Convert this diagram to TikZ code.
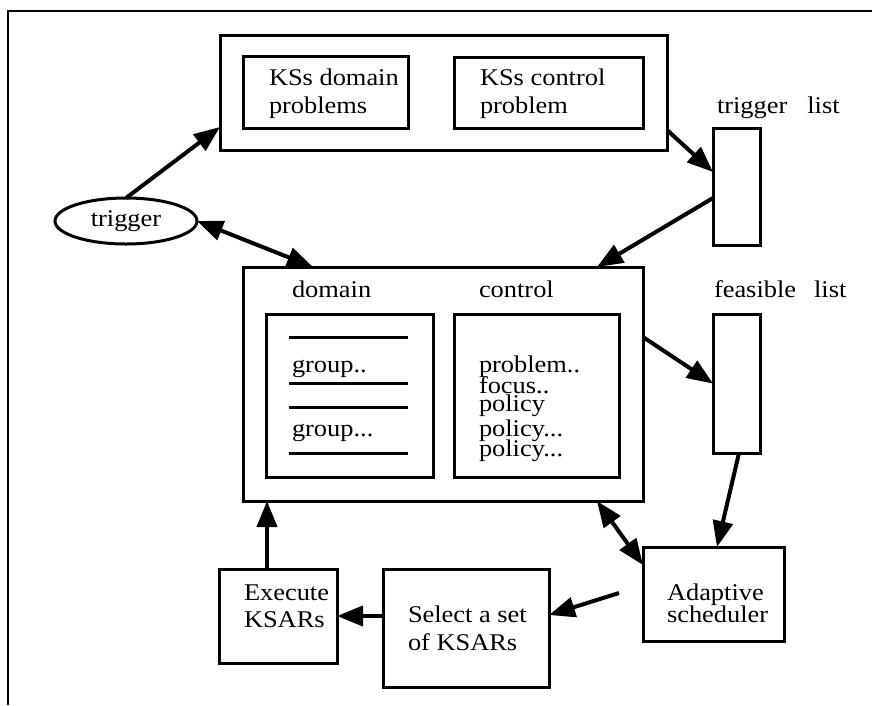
\documentclass[tikz,border=0pt]{standalone}
\usepackage{fontspec}
\setmainfont{Liberation Serif}[FakeStretch=1.1]
\usetikzlibrary{arrows.meta,shapes.geometric}
\begin{document}
\begin{tikzpicture}[x=1pt,y=-1pt,
  every node/.style={inner sep=0pt, outer sep=0pt},
  frame/.style={line width=2.5pt},
  panel/.style={draw, rectangle, line width=3pt},
  lbl/.style={anchor=base west, align=left, font=\fontsize{24}{28}\selectfont},
  tip/.tip={Triangle[length=26pt,width=20pt]},
  flow/.style={line width=4pt, -tip},
  twoway/.style={line width=4pt, tip-tip},
  rule/.style={line width=3pt}
]
\useasboundingbox (0,0) rectangle (872,705);
\fill[white] (0,0) rectangle (872,705);

% open frame round the figure
\draw[frame] (872,11) -- (8,11) -- (8,705);

% knowledge sources (multi-line labels sit on the baseline of their last line)
\node[panel, minimum width=447pt, minimum height=115pt] (tb) at (443.5,92.5) {};
\node[panel, minimum width=165pt, minimum height=72pt] (kdp) at (325.5,92) {};
\node[panel, minimum width=189pt, minimum height=71pt] (kcp) at (548.5,92.5) {};
\node[lbl] (kdptext) at (269,113) {KSs domain\\problems};
\node[lbl] (kcptext) at (480,113) {KSs control\\problem};

% trigger list
\node[lbl] (tltext) at (717,113) {trigger\hspace{20pt}list};
\node[panel, minimum width=47pt, minimum height=117pt] (tl) at (736.5,186.5) {};

% trigger
\node[draw, ellipse, line width=3pt, minimum width=142pt, minimum height=46pt,
      font=\fontsize{24}{28}\selectfont] (trg) at (126,221) {trigger};

% blackboard
\node[panel, minimum width=400pt, minimum height=234pt] (mb) at (443,384) {};
\node[lbl] (domtext) at (292,297) {domain};
\node[lbl] (ctltext) at (479,297) {control};
\node[panel, minimum width=167pt, minimum height=163pt] (dom) at (349.5,395.5) {};
\node[panel, minimum width=165pt, minimum height=163pt] (ctl) at (536.5,395.5) {};

\draw[rule] (289,337) -- (408,337);
\draw[rule] (289,383) -- (408,383);
\draw[rule] (289,407) -- (408,407);
\draw[rule] (289,453) -- (408,453);
\node[lbl] (g1) at (292,372) {group..};
\node[lbl] (g2) at (292,436) {group...};

\node[lbl] (c1) at (479,372) {problem..};
\node[lbl] (c2) at (479,393) {focus..};
\node[lbl] (c3) at (479,411) {policy};
\node[lbl] (c4) at (479,436) {policy...};
\node[lbl] (c5) at (479,456) {policy...};

% feasible list
\node[lbl] (fltext) at (714,297) {feasible\hspace{18pt}list};
\node[panel, minimum width=47pt, minimum height=139pt] (fl) at (736.5,383.5) {};

% scheduling loop
\node[panel, minimum width=141pt, minimum height=94pt] (as) at (713.5,594) {};
\node[lbl, font=\fontsize{24}{22}\selectfont] (astext) at (667,622) {Adaptive\\scheduler};
\node[panel, minimum width=166pt, minimum height=118pt] (sel) at (466,628) {};
\node[lbl] (seltext) at (408,650) {Select a set\\of KSARs};
\node[panel, minimum width=118pt, minimum height=94pt] (ex) at (278,616) {};
\node[lbl, font=\fontsize{24}{27}\selectfont] (extext) at (244,627) {Execute\\KSARs};

% connectors
\draw[flow] (trg.north) -- ([yshift=-34.5pt]tb.west);
\draw[flow] ([yshift=-37.5pt]tb.east) -- ([yshift=14.5pt]tl.west);
\draw[flow] ([yshift=-11.5pt]tl.west) -- ([xshift=154pt]mb.north);
\draw[twoway] (trg.east) -- ([xshift=-130pt]mb.north);
\draw[flow] ([yshift=47pt]mb.east) -- (fl.west);
\draw[flow] ([xshift=2.5pt]fl.south) -- ([xshift=3.5pt]as.north);
\draw[twoway] ([xshift=154pt]mb.south) -- ([yshift=29pt]as.west);
\coordinate (pick) at (619,593);
\draw[flow] (pick) -- ([yshift=13pt]sel.east);
\draw[flow] (sel.west |- ex.east) -- (ex.east);
\draw[flow] ([xshift=-11pt]ex.north) -- ([xshift=-11pt]ex.north |- mb.south);
\end{tikzpicture}
\end{document}
